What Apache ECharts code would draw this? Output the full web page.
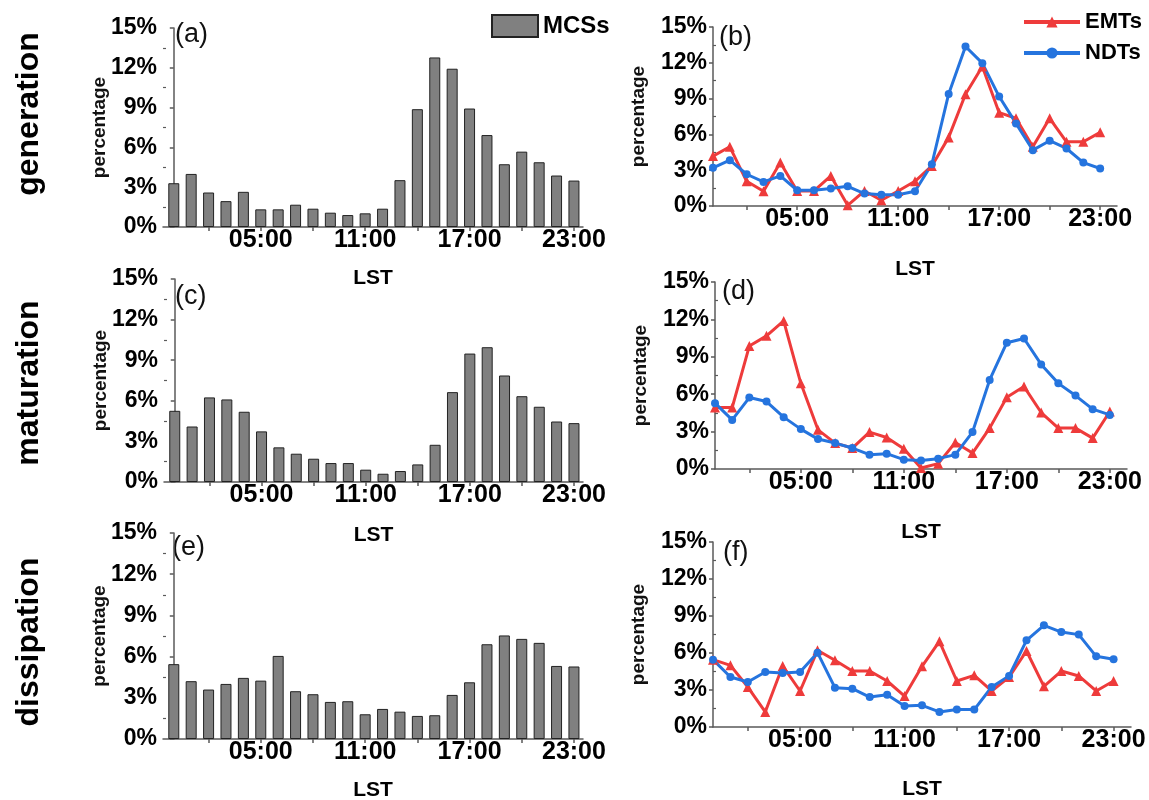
<!DOCTYPE html>
<html><head><meta charset="utf-8">
<script src="https://cdn.jsdelivr.net/npm/echarts@6/dist/echarts.min.js"></script>
<style>html,body{margin:0;padding:0;background:#fff}#c{width:1149px;height:800px}</style>
</head><body><div id="c"></div>
<script>
// ---- data ----
const hours = [0,1,2,3,4,5,6,7,8,9,10,11,12,13,14,15,16,17,18,19,20,21,22,23];
const xLabelHours = [5, 11, 17, 23];
const xTickHours = [2, 5, 8, 11, 14, 17, 20, 23];
const yMajorTicks = [0, 3, 6, 9, 12, 15];
const yMinorTicks = [1.5, 4.5, 7.5, 10.5, 13.5];
const rowNames = ['generation', 'maturation', 'dissipation'];
const panelLetters = ['(a)', '(b)', '(c)', '(d)', '(e)', '(f)'];

const mcsGeneration = [3.3, 4.0, 2.6, 1.95, 2.65, 1.33, 1.33, 1.68, 1.38, 1.08, 0.9, 1.03, 1.38, 3.53, 8.88, 12.78, 11.93, 8.93, 6.93, 4.73, 5.68, 4.88, 3.88, 3.5];
const mcsMaturation = [5.26, 4.1, 6.25, 6.1, 5.19, 3.74, 2.56, 2.09, 1.72, 1.4, 1.4, 0.91, 0.61, 0.81, 1.3, 2.75, 6.64, 9.49, 9.96, 7.87, 6.34, 5.56, 4.47, 4.35];
const mcsDissipation = [5.45, 4.21, 3.6, 4.01, 4.45, 4.25, 6.05, 3.48, 3.26, 2.7, 2.75, 1.8, 2.19, 1.99, 1.68, 1.73, 3.21, 4.13, 6.9, 7.54, 7.29, 7.0, 5.32, 5.28];

const emtGeneration = [4.18, 4.96, 2.07, 1.23, 3.64, 1.26, 1.26, 2.52, 0.06, 1.26, 0.48, 1.26, 2.07, 3.36, 5.75, 9.36, 11.69, 7.82, 7.35, 4.96, 7.35, 5.38, 5.38, 6.17];
const ndtGeneration = [3.2, 3.84, 2.66, 2.02, 2.52, 1.32, 1.32, 1.46, 1.65, 1.04, 0.95, 0.95, 1.23, 3.5, 9.39, 13.37, 11.97, 9.17, 6.92, 4.68, 5.47, 4.82, 3.64, 3.14];
const emtMaturation = [4.93, 4.93, 9.86, 10.68, 11.88, 6.87, 3.14, 2.08, 1.68, 2.96, 2.53, 1.63, 0.08, 0.43, 2.13, 1.28, 3.28, 5.76, 6.61, 4.53, 3.28, 3.28, 2.48, 4.61];
const ndtMaturation = [5.28, 3.94, 5.73, 5.41, 4.16, 3.2, 2.4, 2.08, 1.68, 1.15, 1.23, 0.75, 0.69, 0.83, 1.15, 2.96, 7.14, 10.13, 10.47, 8.39, 6.87, 5.89, 4.8, 4.34];
const emtDissipation = [5.46, 5.0, 3.24, 1.22, 4.95, 2.92, 6.22, 5.41, 4.54, 4.54, 3.73, 2.51, 4.92, 6.95, 3.73, 4.19, 2.92, 4.05, 6.16, 3.3, 4.54, 4.14, 2.92, 3.73];
const ndtDissipation = [5.46, 4.05, 3.65, 4.46, 4.38, 4.46, 6.03, 3.19, 3.11, 2.43, 2.62, 1.7, 1.76, 1.22, 1.41, 1.41, 3.24, 4.14, 7.03, 8.24, 7.7, 7.49, 5.73, 5.49];

// ---- layout ----
const FONT = '"Liberation Sans", Arial, Helvetica, sans-serif';
const AXIS_COLOR = '#5a5a5a';
const RED = '#EE3B3B';
const BLUE = '#2574DE';

const panels = [
  { grid: {left:163, top:28, width:420, height:199}, xmin:-0.62, xmax:23.52, kind:'bar', bars: mcsGeneration, yNameGap:55, xNameGap:41, letter:[175,37] },
  { grid: {left:713, top:27, width:404, height:179}, xmin:0, xmax:24, kind:'line', emt: emtGeneration, ndt: ndtGeneration, yNameGap:66, xNameGap:53, letter:[719,40] },
  { grid: {left:164, top:279, width:419, height:203}, xmin:-0.62, xmax:23.52, kind:'bar', bars: mcsMaturation, yNameGap:55, xNameGap:43, letter:[175,299] },
  { grid: {left:715, top:282, width:412, height:187}, xmin:0, xmax:24, kind:'line', emt: emtMaturation, ndt: ndtMaturation, yNameGap:66, xNameGap:53, letter:[722,294] },
  { grid: {left:163, top:533, width:420, height:206}, xmin:-0.62, xmax:23.52, kind:'bar', bars: mcsDissipation, yNameGap:55, xNameGap:41, letter:[172,550] },
  { grid: {left:713, top:542, width:418, height:185}, xmin:0, xmax:24, kind:'line', emt: emtDissipation, ndt: ndtDissipation, yNameGap:66, xNameGap:52, letter:[723,555] }
];

const pad2 = v => (v < 10 ? '0' : '') + v + ':00';

const grid = [], xAxis = [], yAxis = [], series = [], graphic = [];
panels.forEach((p, i) => {
  grid.push(Object.assign({ outerBoundsMode: 'none', containLabel: false }, p.grid));
  xAxis.push({
    gridIndex: i, type: 'value', min: p.xmin, max: p.xmax,
    axisLine: { show: true, lineStyle: { color: AXIS_COLOR, width: 1.5 } },
    axisTick: { show: true, customValues: xTickHours, length: 4, lineStyle: { color: AXIS_COLOR, width: 1.5 } },
    axisLabel: { customValues: xLabelHours, formatter: v => pad2(v), margin: 1, color: '#000',
      fontFamily: FONT, fontWeight: 'bold', fontSize: 25 },
    splitLine: { show: false },
    name: 'LST', nameLocation: 'middle', nameGap: p.xNameGap, nameMoveOverlap: false,
    nameTextStyle: { fontFamily: FONT, fontWeight: 'bold', fontSize: 21, color: '#000' }
  });
  yAxis.push({
    gridIndex: i, type: 'value', position: 'left', min: 0, max: 15, interval: 3,
    axisLine: { show: true, lineStyle: { color: AXIS_COLOR, width: 1.5 } },
    axisTick: { show: true, customValues: yMajorTicks, length: 4, lineStyle: { color: AXIS_COLOR, width: 1.5 } },
    axisLabel: { formatter: '{value}%', margin: 6, color: '#000', fontFamily: FONT, fontWeight: 'bold', fontSize: 23 },
    splitLine: { show: false },
    name: 'percentage', nameLocation: 'middle', nameRotate: 90, nameGap: p.yNameGap - 1, nameMoveOverlap: false,
    nameTextStyle: { fontFamily: FONT, fontSize: 19, fontWeight: 'bold', color: '#111' }
  });
  yAxis.push({
    gridIndex: i, type: 'value', position: 'left', min: 0, max: 15,
    axisLine: { show: false }, axisLabel: { show: false }, splitLine: { show: false },
    axisTick: { show: true, inside: true, customValues: yMinorTicks, length: 3, lineStyle: { color: AXIS_COLOR, width: 1.2 } }
  });
  const yi = i * 2;
  if (p.kind === 'bar') {
    series.push({
      name: 'MCSs', type: 'bar', xAxisIndex: i, yAxisIndex: yi, barWidth: 11,
      data: hours.map((h, k) => [h, p.bars[k]]),
      itemStyle: { color: '#808080', borderColor: '#222', borderWidth: 1 }
    });
  } else {
    series.push({
      name: 'EMTs', type: 'line', xAxisIndex: i, yAxisIndex: yi,
      data: hours.map((h, k) => [h, p.emt[k]]),
      symbol: 'triangle', symbolSize: 10, showAllSymbol: true,
      lineStyle: { color: RED, width: 3 }, itemStyle: { color: RED }
    });
    series.push({
      name: 'NDTs', type: 'line', xAxisIndex: i, yAxisIndex: yi,
      data: hours.map((h, k) => [h, p.ndt[k]]),
      symbol: 'circle', symbolSize: 8, showAllSymbol: true,
      lineStyle: { color: BLUE, width: 3 }, itemStyle: { color: BLUE }
    });
  }
  graphic.push({
    type: 'text', left: p.letter[0], top: p.letter[1] - 16,
    style: { text: panelLetters[i], font: '27px ' + FONT, fill: '#111' }
  });
});

const rowCenters = [114, 383, 642];
rowNames.forEach((n, r) => {
  graphic.push({
    type: 'text', x: 29, y: rowCenters[r], rotation: Math.PI / 2,
    style: { text: n, font: 'bold 32px ' + FONT, fill: '#000', align: 'center', verticalAlign: 'middle' }
  });
});

const chart = echarts.init(document.getElementById('c'), null, { renderer: 'canvas' });
chart.setOption({
  animation: false,
  backgroundColor: '#fff',
  grid, xAxis, yAxis, series, graphic,
  legend: [
    { data: ['MCSs'], left: 491, top: 14, padding: 0, itemWidth: 46, itemHeight: 22, icon: 'rect',
      textStyle: { fontFamily: FONT, fontWeight: 'bold', fontSize: 24, color: '#000' } },
    { data: ['EMTs', 'NDTs'], orient: 'vertical', left: 1022, top: 11, padding: 0, itemWidth: 56, itemHeight: 14, itemGap: 9,
      lineStyle: { width: 4 }, itemStyle: {},
      textStyle: { fontFamily: FONT, fontWeight: 'bold', fontSize: 22, color: '#000' } }
  ]
});
</script></body></html>
